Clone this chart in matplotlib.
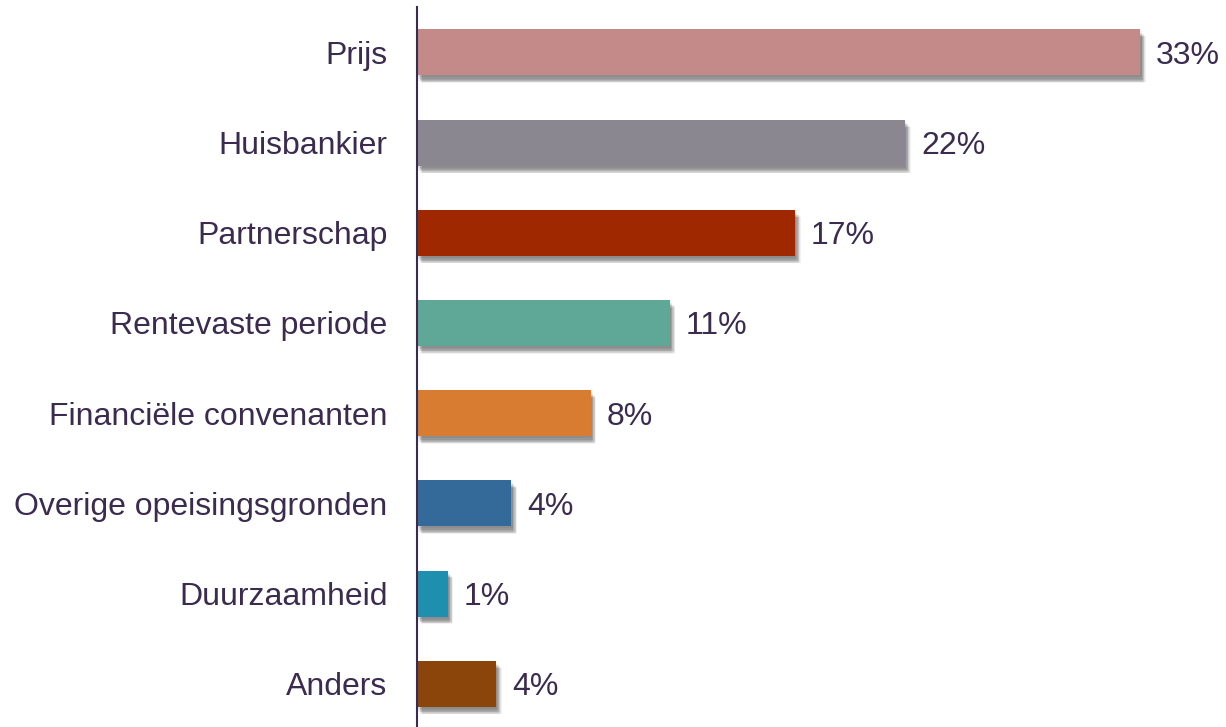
import matplotlib
matplotlib.use("Agg")
import matplotlib.pyplot as plt
import matplotlib.patheffects as pe

# data
categories = ["Prijs", "Huisbankier", "Partnerschap", "Rentevaste periode",
              "Financiële convenanten", "Overige opeisingsgronden",
              "Duurzaamheid", "Anders"]
values = [32.9, 22.2, 17.2, 11.5, 7.9, 4.3, 1.4, 3.6]
labels = ["33%", "22%", "17%", "11%", "8%", "4%", "1%", "4%"]
colors = ["#C48A89", "#8A8791", "#A02800", "#5FA898",
          "#D87C31", "#336A9A", "#1E8FAF", "#8B4409"]

text_color = "#3A2B4F"
plt.rcParams["font.family"] = ["Liberation Sans", "DejaVu Sans"]

fig = plt.figure(figsize=(12.26, 7.27), dpi=100)
ax = fig.add_axes([0.340, 0.0, 0.660, 0.990])

# soft drop shadow: several offset gray layers
offsets = [(1, -1.5), (1.5, -2.5), (2, -3), (2.5, -3.5), (3, -4), (3.5, -4.5),
           (4, -5), (2, -5), (3, -5.5), (1, -4)]
shadow = [pe.SimplePatchShadow(offset=o, shadow_rgbFace="#000000", alpha=0.055)
          for o in offsets]

pos = list(range(len(categories)))
bars = ax.barh(pos, values, height=0.51, color=colors, zorder=3)
for b in bars:
    b.set_path_effects(shadow + [pe.Normal()])

for p, v, lab in zip(pos, values, labels):
    ax.annotate(lab, (v, p), xytext=(11.5, 0), textcoords="offset points",
                va="center_baseline", ha="left", fontsize=23, color=text_color)

ax.set_yticks(pos)
ax.set_yticklabels(categories, fontsize=23, color=text_color, va="center_baseline")
ax.tick_params(axis="y", length=0, pad=21)
ax.set_xticks([])
ax.set_xlim(0, 36.8)
ax.set_ylim(7.48, -0.5)

for s in ["top", "right", "bottom"]:
    ax.spines[s].set_visible(False)
ax.spines["left"].set_color(text_color)
ax.spines["left"].set_linewidth(1.5)
ax.spines["left"].set_zorder(4)

fig.savefig("out.png", dpi=100)
